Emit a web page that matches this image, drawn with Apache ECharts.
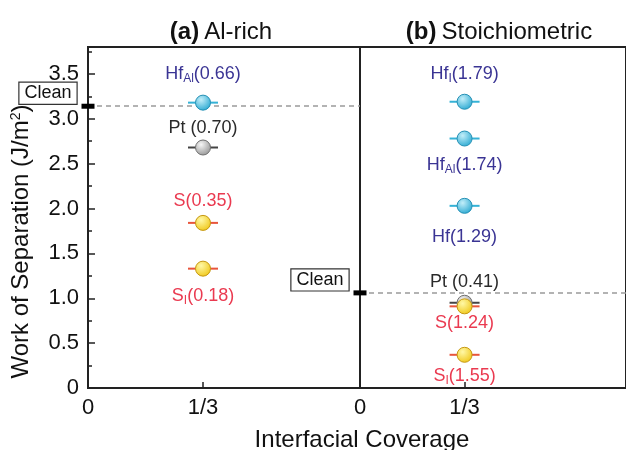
<!DOCTYPE html>
<html>
<head>
<meta charset="utf-8">
<script src="https://cdn.jsdelivr.net/npm/echarts@6/dist/echarts.min.js"></script>
<style>
  html, body { margin: 0; padding: 0; background: #fff; }
  #chart { width: 626px; height: 450px; }
</style>
</head>
<body>
<div id="chart"></div>
<script>
// shared axes
const xTicks = [0, 1 / 3];
const xTickLabels = ['0', '1/3'];
const yMin = 0;
const yMax = 3.8;
const yStep = 0.5;

// (a) Al-rich
const leftElem = ['Hf', 'Pt ', 'S', 'S'];
const leftSub = ['Al', '', '', 'I'];
const leftVal = ['0.66', '0.70', '0.35', '0.18'];
const leftKind = ['hf', 'pt', 's', 's'];
const leftX = [1 / 3, 1 / 3, 1 / 3, 1 / 3];
const leftW = [3.18, 2.68, 1.84, 1.33];
const leftClean = 3.14;

// (b) Stoichiometric
const rightElem = ['Hf', 'Hf', 'Hf', 'Pt ', 'S', 'S'];
const rightSub = ['I', 'Al', '', '', '', 'I'];
const rightVal = ['1.79', '1.74', '1.29', '0.41', '1.24', '1.55'];
const rightKind = ['hf', 'hf', 'hf', 'pt', 's', 's'];
const rightX = [1 / 3, 1 / 3, 1 / 3, 1 / 3, 1 / 3, 1 / 3];
const rightW = [3.19, 2.78, 2.03, 0.95, 0.91, 0.37];
const rightClean = 1.06;

// label placement (style only)
const leftLabelPos = ['top', 'top', 'top', 'bottom'];
const leftLabelDist = [10, 2, 5, 8];
const rightLabelPos = ['top', 'bottom', 'bottom', 'top', 'bottom', 'bottom'];
const rightLabelDist = [9, 7, 14, 4, 0, 2];

const grad = (a, b) => new echarts.graphic.RadialGradient(0.38, 0.32, 0.7, [
    { offset: 0, color: a },
    { offset: 1, color: b }
]);

const kindStyle = {
    hf: { text: '#3a3494', bar: '#35b2d6', fill: grad('#c2eef9', '#2fabd3'), border: '#2590b4' },
    pt: { text: '#2a2a2a', bar: '#444444', fill: grad('#f6f6f6', '#979797'), border: '#707070' },
    s: { text: '#ea3a50', bar: '#e8553c', fill: grad('#fff8a6', '#f0c91c'), border: '#c69812' }
};

const labelRich = {
    m: { fontSize: 18, fontFamily: 'Liberation Sans' },
    s: { fontSize: 12, fontFamily: 'Liberation Sans', padding: [10, 0, 0, 0] }
};

function panelSeries(gi, xs, ws, elem, sub, val, kind, pos, dist, clean) {
    const bars = {
        type: 'scatter',
        xAxisIndex: gi,
        yAxisIndex: gi,
        symbol: 'rect',
        symbolSize: [30, 2],
        silent: true,
        z: 2,
        data: xs.map((x, i) => ({ value: [x, ws[i]], itemStyle: { color: kindStyle[kind[i]].bar, opacity: 1 } }))
    };
    const points = {
        type: 'scatter',
        xAxisIndex: gi,
        yAxisIndex: gi,
        symbol: 'circle',
        symbolSize: 15,
        silent: true,
        z: 3,
        data: xs.map((x, i) => {
            const st = kindStyle[kind[i]];
            const txt = '{m|' + elem[i] + '}' + (sub[i] ? '{s|' + sub[i] + '}' : '') + '{m|(' + val[i] + ')}';
            return {
                value: [x, ws[i]],
                itemStyle: { color: st.fill, borderColor: st.border, borderWidth: 1, opacity: 1 },
                label: {
                    show: true,
                    position: pos[i],
                    distance: dist[i],
                    color: st.text,
                    formatter: () => txt,
                    rich: labelRich
                }
            };
        })
    };
    const cleanMark = {
        type: 'scatter',
        xAxisIndex: gi,
        yAxisIndex: gi,
        symbol: 'rect',
        symbolSize: [13, 5],
        clip: false,
        silent: true,
        z: 6,
        itemStyle: { color: '#000', opacity: 1 },
        label: {
            show: true,
            position: 'left',
            distance: 5,
            offset: [0, -13],
            formatter: 'Clean',
            fontSize: 18,
            fontFamily: 'Liberation Sans',
            color: '#111',
            borderColor: '#333',
            borderWidth: 1.2,
            padding: [2, 5, 1, 5],
            backgroundColor: '#fff'
        },
        markLine: {
            silent: true,
            symbol: 'none',
            z: 1,
            label: { show: false },
            lineStyle: { type: [5, 4], color: '#9a9a9a', width: 1.5 },
            data: [{ yAxis: clean }]
        },
        data: [[0, clean]]
    };
    return [bars, points, cleanMark];
}

const axisFont = { fontFamily: 'Liberation Sans', color: '#111' };

function xAxis(gi, max) {
    return {
        type: 'value',
        gridIndex: gi,
        min: 0,
        max: max,
        axisLine: { show: true, lineStyle: { color: '#222', width: 2 } },
        axisTick: { show: true, inside: true, length: 6, customValues: xTicks, lineStyle: { color: '#222', width: 1.5 } },
        axisLabel: {
            ...axisFont,
            fontSize: 22,
            margin: 9,
            customValues: xTicks,
            formatter: v => xTickLabels[xTicks.findIndex(t => Math.abs(t - v) < 1e-6)] ?? ''
        },
        splitLine: { show: false }
    };
}

const titleRich = {
    b: { fontSize: 24, fontWeight: 'bold', fontFamily: 'Liberation Sans', color: '#111' },
    n: { fontSize: 24, fontWeight: 'normal', fontFamily: 'Liberation Sans', color: '#111' }
};

const chart = echarts.init(document.getElementById('chart'));

chart.setOption({
    animation: false,
    backgroundColor: '#fff',
    title: [
        {
            text: '{b|(a)} {n|Al-rich}',
            left: 216,
            top: 15,
            textAlign: 'center',
            textStyle: { fontWeight: 'normal', rich: titleRich }
        },
        {
            text: '{b|(b)} {n|Stoichiometric}',
            left: 494,
            top: 15,
            textAlign: 'center',
            textStyle: { fontWeight: 'normal', rich: titleRich }
        },
        {
            text: 'Interfacial Coverage',
            left: 357,
            top: 423,
            textAlign: 'center',
            textStyle: { fontSize: 24, fontWeight: 'normal', fontFamily: 'Liberation Sans', color: '#111' }
        }
    ],
    grid: [
        { left: 88, top: 47, width: 272, height: 341, show: true, borderColor: '#222', borderWidth: 2, containLabel: false },
        { left: 360, top: 47, width: 290, height: 341, show: true, borderColor: '#222', borderWidth: 2, containLabel: false }
    ],
    xAxis: [xAxis(0, 272 / (115 * 3)), xAxis(1, 290 / (114 * 3))],
    yAxis: [
        {
            type: 'value',
            gridIndex: 0,
            min: yMin,
            max: yMax,
            interval: yStep,
            name: 'Work of Separation (J/m{sup|2})',
            nameLocation: 'middle',
            nameGap: 55,
            nameTextStyle: {
                fontSize: 24,
                fontFamily: 'Liberation Sans',
                color: '#111',
                padding: [0, 48, 0, 0],
                rich: { sup: { fontSize: 14, fontFamily: 'Liberation Sans', color: '#111', padding: [0, 0, 10, 0] } }
            },
            axisLine: { show: true, lineStyle: { color: '#222', width: 2 } },
            axisTick: { show: true, inside: true, length: 7, lineStyle: { color: '#222', width: 1.5 } },
            minorTick: { show: true, splitNumber: 2, length: 4, lineStyle: { color: '#222', width: 1.5 } },
            axisLabel: {
                ...axisFont,
                fontSize: 22,
                margin: 9,
                showMaxLabel: false,
                formatter: v => (v === 0 ? '0' : v.toFixed(1))
            },
            splitLine: { show: false },
            minorSplitLine: { show: false }
        },
        {
            type: 'value',
            gridIndex: 1,
            min: yMin,
            max: yMax,
            interval: yStep,
            axisLine: { show: true, lineStyle: { color: '#222', width: 2 } },
            axisTick: { show: false },
            axisLabel: { show: false },
            splitLine: { show: false }
        }
    ],
    series: [
        ...panelSeries(0, leftX, leftW, leftElem, leftSub, leftVal, leftKind, leftLabelPos, leftLabelDist, leftClean),
        ...panelSeries(1, rightX, rightW, rightElem, rightSub, rightVal, rightKind, rightLabelPos, rightLabelDist, rightClean)
    ]
});
</script>
</body>
</html>
